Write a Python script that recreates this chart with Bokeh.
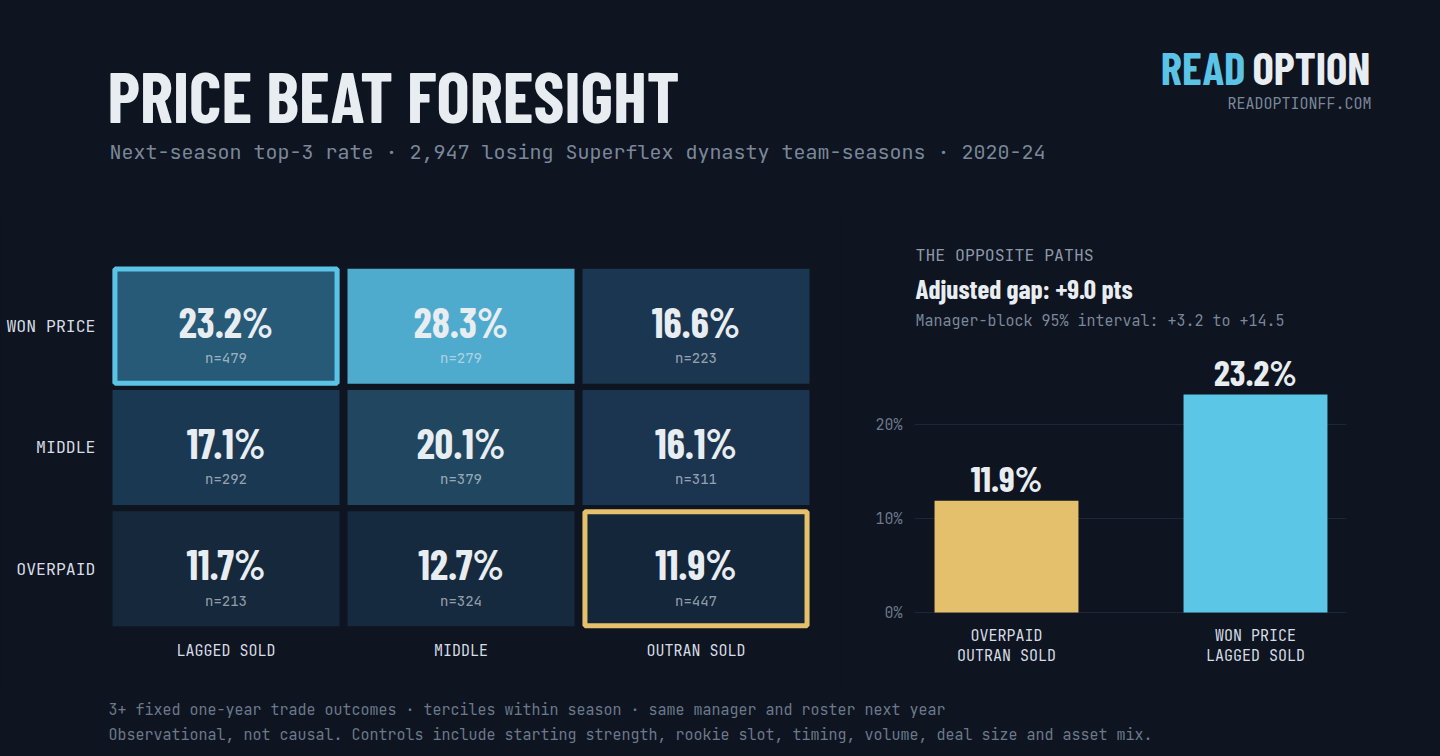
from bokeh.plotting import figure
from bokeh.layouts import column, row
from bokeh.models import Range1d, FactorRange, FixedTicker, ColumnDataSource, PrintfTickFormatter
from bokeh.core.properties import value
from bokeh.embed import file_html
from bokeh.resources import INLINE

# ---------------- data ----------------
row_labels = ["WON PRICE", "MIDDLE", "OVERPAID"]
col_labels = ["LAGGED SOLD", "MIDDLE", "OUTRAN SOLD"]
rates = [[23.2, 28.3, 16.6],
         [17.1, 20.1, 16.1],
         [11.7, 12.7, 11.9]]
counts = [[479, 279, 223],
          [292, 379, 311],
          [213, 324, 447]]
cell_colors = [["#265a77", "#4fabcd", "#1b3650"],
               ["#1b3852", "#20475f", "#1b3450"],
               ["#15283c", "#162a3f", "#14263a"]]
highlight_cols = ["LAGGED SOLD", "OUTRAN SOLD"]
highlight_rows = ["WON PRICE", "OVERPAID"]
highlight_colors = ["#5bc4e6", "#e6c06b"]

bar_labels = ["OVERPAID\nOUTRAN SOLD", "WON PRICE\nLAGGED SOLD"]
bar_values = [11.9, 23.2]
bar_colors = ["#e5c06c", "#5bc6e6"]
y_ticks = [0, 10, 20]

title = "PRICE BEAT FORESIGHT"
subtitle = "Next-season top-3 rate \u00b7 2,947 losing Superflex dynasty team-seasons \u00b7 2020-24"
brand_a, brand_b = "READ", "OPTION"
brand_url = "READOPTIONFF.COM"
panel_kicker = "THE OPPOSITE PATHS"
panel_head = "Adjusted gap: +9.0 pts"
panel_sub = "Manager-block 95% interval: +3.2 to +14.5"
foot1 = "3+ fixed one-year trade outcomes \u00b7 terciles within season \u00b7 same manager and roster next year"
foot2 = "Observational, not causal. Controls include starting strength, rookie slot, timing, volume, deal size and asset mix."

# ---------------- style ----------------
BG = "#0e1420"
WHITE = "#e8edf2"
MUTED = "#7b889a"
DIM = "#6c7a8b"
LABEL = "#d6dde5"
COND = "Barlow Condensed"
MONO = "JetBrains Mono"


def canvas(w, h):
    p = figure(width=w, height=h, x_range=Range1d(0, w), y_range=Range1d(h, 0),
               output_backend="svg", toolbar_location=None, min_border=0,
               x_axis_location=None, y_axis_location=None)
    p.xgrid.visible = False
    p.ygrid.visible = False
    p.outline_line_color = None
    p.background_fill_color = BG
    p.border_fill_color = BG
    return p


def txt(p, x, y, s, size, color, font, style="normal", align="left", **kw):
    p.text(x=[x], y=[y], text=[s], text_font=value(font), text_font_size=size,
           text_font_style=style, text_color=color,
           text_align=align, text_baseline="alphabetic", **kw)


# ---------------- header ----------------
W = 1440
head = canvas(W, 208)
txt(head, 107, 94, title, "70px", WHITE, COND, "bold")
txt(head, 109, 151, subtitle, "20px", MUTED, MONO)
txt(head, 1370, 66, brand_b, "45px", WHITE, COND, "bold", "right")
txt(head, 1245, 66, brand_a, "45px", "#5bc3e6", COND, "bold", "right")
txt(head, 1371, 103, brand_url, "15px", MUTED, MONO, "normal", "right")

# ---------------- heatmap ----------------
row_pos = {lab: len(row_labels) - 1 - i for i, lab in enumerate(row_labels)}
hx, hy, hrate, hn, hcol = [], [], [], [], []
for i, r in enumerate(row_labels):
    for j, c in enumerate(col_labels):
        hx.append(c)
        hy.append(row_pos[r])
        hrate.append(f"{rates[i][j]:.1f}%")
        hn.append(f"n={counts[i][j]}")
        hcol.append(cell_colors[i][j])
hsrc = ColumnDataSource(dict(x=hx, y=hy, rate=hrate, n=hn, color=hcol))

heat = figure(width=840, height=480,
              x_range=FactorRange(*col_labels), y_range=Range1d(-0.5, 2.9695),
              output_backend="svg", toolbar_location=None,
              min_border_left=108, min_border_right=27, min_border_top=0, min_border_bottom=59)
heat.outline_line_color = None
heat.background_fill_color = BG
heat.border_fill_color = BG
heat.xgrid.visible = False
heat.ygrid.visible = False
heat.rect(x="x", y="y", width=0.966, height=0.948, source=hsrc,
          fill_color="color", line_color=None)
heat.rect(x=highlight_cols, y=[row_pos[r] for r in highlight_rows], width=0.945, height=0.94,
          fill_color=None, line_color=highlight_colors, line_width=5)
heat.text(x="x", y="y", text="rate", source=hsrc, text_font=value(COND),
          text_font_style="bold", text_font_size="41px", text_color=WHITE,
          text_align="center", text_baseline="alphabetic", y_offset=-5)
heat.text(x="x", y="y", text="n", source=hsrc, text_font=value(MONO),
          text_font_size="14px", text_color=WHITE, text_alpha=0.62,
          text_align="center", text_baseline="alphabetic", y_offset=32)
heat.yaxis.ticker = FixedTicker(ticks=sorted(row_pos.values()))
heat.yaxis.major_label_overrides = {v: k for k, v in row_pos.items()}
for ax in (heat.xaxis[0], heat.yaxis[0]):
    ax.axis_line_color = None
    ax.major_tick_line_color = None
    ax.minor_tick_line_color = None
    ax.major_tick_out = 0
    ax.major_tick_in = 0
    ax.major_label_text_font = MONO
    ax.major_label_text_color = LABEL
heat.yaxis.major_label_text_font_size = "16.5px"
heat.yaxis.major_label_standoff = 13
heat.xaxis.major_label_text_font_size = "15px"
heat.xaxis.major_label_standoff = 11

# ---------------- right panel ----------------
bar_x = list(range(len(bar_values)))
bsrc = ColumnDataSource(dict(x=bar_x, top=bar_values, color=bar_colors,
                             label=[f"{v:.1f}%" for v in bar_values]))
bars = figure(width=600, height=480,
              x_range=Range1d(-0.3695, 1.3655), y_range=Range1d(-1.8085, 42.979),
              output_backend="svg", toolbar_location=None,
              min_border_left=74, min_border_right=94, min_border_top=0, min_border_bottom=59)
bars.extra_x_ranges = {"px": Range1d(0, 432)}
bars.extra_y_ranges = {"px": Range1d(421, 0)}
bars.outline_line_color = None
bars.background_fill_color = BG
bars.border_fill_color = BG
bars.xgrid.visible = False
bars.ygrid.ticker = FixedTicker(ticks=y_ticks)
bars.ygrid.grid_line_color = "#1c2738"
bars.ygrid.grid_line_width = 1
bars.vbar(x="x", top="top", width=0.578, source=bsrc, fill_color="color", line_color=None)
bars.text(x="x", y="top", text="label", source=bsrc, text_font=value(COND),
          text_font_style="bold", text_font_size="36px", text_color=WHITE,
          text_align="center", text_baseline="alphabetic", y_offset=-23)
bars.yaxis.ticker = FixedTicker(ticks=y_ticks)
bars.yaxis.formatter = PrintfTickFormatter(format="%d%%")
bars.xaxis.ticker = FixedTicker(ticks=bar_x)
bars.xaxis.major_label_overrides = {i: lab for i, lab in zip(bar_x, bar_labels)}
for ax in (bars.xaxis[0], bars.yaxis[0]):
    ax.axis_line_color = None
    ax.major_tick_line_color = None
    ax.minor_tick_line_color = None
    ax.major_tick_out = 0
    ax.major_tick_in = 0
    ax.major_label_text_font = MONO
    ax.major_label_text_font_size = "15px"
bars.yaxis.major_label_text_color = DIM
bars.yaxis.major_label_standoff = 12
bars.xaxis.major_label_text_color = LABEL
bars.xaxis.major_label_standoff = -4
bars.xaxis.major_label_text_line_height = 1.0

pk = dict(x_range_name="px", y_range_name="px")
txt(bars, 1, 46, panel_kicker, "16.5px", "#8d99a8", MONO, **pk)
txt(bars, 1, 79, panel_head, "27px", WHITE, COND, "bold", **pk)
txt(bars, 1, 112, panel_sub, "15px", MUTED, MONO, **pk)

# ---------------- footer ----------------
foot = canvas(W, 68)
txt(foot, 108, 21, foot1, "15px", DIM, MONO)
txt(foot, 108, 46, foot2, "15px", DIM, MONO)

layout = column(head, row(heat, bars), foot)

html = file_html(layout, INLINE, title="Price beat foresight")
html = html.replace("<head>", "<head><style>html,body{background:#0e1420;}</style>", 1)
with open("out.html", "w") as f:
    f.write(html)
